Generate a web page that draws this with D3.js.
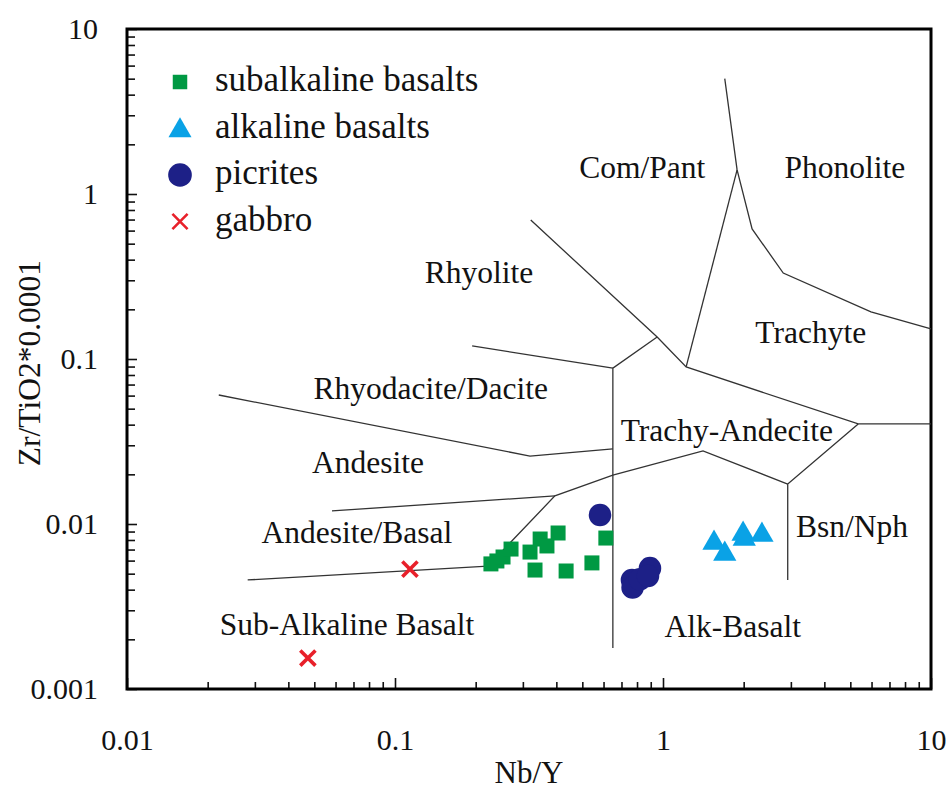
<!DOCTYPE html>
<html>
<head>
<meta charset="utf-8">
<script src="https://cdn.jsdelivr.net/npm/d3@7"></script>
<style>
  html, body { margin: 0; padding: 0; background: #fff; }
  svg { display: block; }
</style>
</head>
<body>
<svg id="chart" width="951" height="791"></svg>
<script>
// Nb/Y vs Zr/TiO2*0.0001 classification (Winchester & Floyd style)

const xTickValues = [0.01, 0.1, 1, 10];
const xTickLabels = ["0.01", "0.1", "1", "10"];
const yTickValues = [0.001, 0.01, 0.1, 1, 10];
const yTickLabels = ["0.001", "0.01", "0.1", "1", "10"];

// sample groups: [Nb/Y, Zr/TiO2*0.0001]
const subalkalineBasalts = [
  [0.228, 0.00573], [0.240, 0.00597], [0.253, 0.00631], [0.271, 0.00705],
  [0.319, 0.00676], [0.348, 0.00811], [0.369, 0.00736], [0.406, 0.00882],
  [0.333, 0.00526], [0.435, 0.00519], [0.543, 0.00581], [0.612, 0.00822]
];
const alkalineBasalts = [
  [1.55, 0.00789], [1.70, 0.00676], [1.99, 0.00895], [2.01, 0.00834], [2.34, 0.00882]
];
const picrites = [
  [0.582, 0.01135], [0.766, 0.00458], [0.770, 0.00412], [0.820, 0.00462],
  [0.894, 0.00540], [0.879, 0.00484]
];
const gabbro = [
  [0.1137, 0.00533], [0.0473, 0.00154]
];

// field boundaries as polylines
const boundaries = [
  [[1.70, 5.0], [1.89, 1.40], [2.15, 0.614], [2.81, 0.332], [5.97, 0.193], [10, 0.152]],
  [[1.89, 1.40], [1.22, 0.0895]],
  [[0.321, 0.695], [0.951, 0.136], [1.22, 0.0895], [5.35, 0.0404], [10, 0.0404]],
  [[0.951, 0.136], [0.65, 0.088], [0.65, 0.00177]],
  [[0.194, 0.12], [0.65, 0.088]],
  [[0.022, 0.0605], [0.319, 0.0258], [0.65, 0.0285]],
  [[5.35, 0.0404], [2.92, 0.01746], [2.92, 0.00458]],
  [[2.92, 0.01746], [1.41, 0.0277], [0.65, 0.0198], [0.395, 0.0148], [0.222, 0.00556]],
  [[0.0582, 0.0120], [0.395, 0.0148]],
  [[0.0282, 0.00458], [0.222, 0.00556]]
];

// field names with anchor (centre, baseline) in data units
const fieldNames = ["Com/Pant", "Phonolite", "Rhyolite", "Trachyte", "Rhyodacite/Dacite",
  "Trachy-Andecite", "Andesite", "Andesite/Basal", "Bsn/Nph", "Sub-Alkaline Basalt", "Alk-Basalt"];
const fieldAnchors = [
  [0.836, 1.25], [4.77, 1.25], [0.206, 0.289], [3.56, 0.125], [0.136, 0.0573],
  [1.73, 0.0318], [0.0793, 0.0204], [0.0721, 0.00767], [5.07, 0.00834], [0.0662, 0.00212], [1.82, 0.00207]
];

const legendNames = ["subalkaline basalts", "alkaline basalts", "picrites", "gabbro"];

const FONT = '"Liberation Serif"';
const TEXT_COLOR = "#121212";

const svg = d3.select("#chart");
const plotLeft = 127, plotRight = 931, plotTop = 29, plotBottom = 689;

const x = d3.scaleLog().domain([0.01, 10]).range([plotLeft, plotRight]);
const y = d3.scaleLog().domain([0.001, 10]).range([plotBottom, plotTop]);

// minor ticks (inside the frame)
const xMinor = x.ticks().filter(v => !xTickValues.includes(v));
const yMinor = y.ticks().filter(v => !yTickValues.includes(v));

const axisStyle = g => {
  g.attr("font-family", null).attr("font-size", null);
  g.select(".domain").remove();
  g.selectAll("line").attr("stroke", "#111").attr("stroke-width", 1.6);
  g.selectAll("text")
    .style("font-family", FONT).style("font-size", "30px")
    .attr("fill", TEXT_COLOR);
};

svg.append("g").attr("transform", `translate(0,${plotBottom})`)
  .call(d3.axisBottom(x).tickValues(xMinor).tickSize(-7).tickFormat(""))
  .call(axisStyle);
svg.append("g").attr("transform", `translate(0,${plotBottom})`)
  .call(d3.axisBottom(x).tickValues(xTickValues).tickSize(-11).tickPadding(40)
    .tickFormat((d, i) => xTickLabels[i]))
  .call(axisStyle);

svg.append("g").attr("transform", `translate(${plotLeft},0)`)
  .call(d3.axisLeft(y).tickValues(yMinor).tickSize(-8).tickFormat(""))
  .call(axisStyle);
svg.append("g").attr("transform", `translate(${plotLeft},0)`)
  .call(d3.axisLeft(y).tickValues(yTickValues).tickSize(-10).tickPadding(29)
    .tickFormat((d, i) => yTickLabels[i]))
  .call(axisStyle);

// frame
svg.append("rect")
  .attr("x", plotLeft).attr("y", plotTop)
  .attr("width", plotRight - plotLeft).attr("height", plotBottom - plotTop)
  .attr("fill", "none").attr("stroke", "#000").attr("stroke-width", 3);

// field boundaries
const line = d3.line().x(d => x(d[0])).y(d => y(d[1]));
svg.append("g").selectAll("path").data(boundaries).join("path")
  .attr("d", line).attr("fill", "none")
  .attr("stroke", "#333").attr("stroke-width", 1.3);

// field names
svg.append("g").selectAll("text").data(fieldNames).join("text")
  .attr("x", (d, i) => x(fieldAnchors[i][0]))
  .attr("y", (d, i) => y(fieldAnchors[i][1]))
  .attr("text-anchor", "middle")
  .style("font-family", FONT).style("font-size", "31.5px")
  .attr("fill", TEXT_COLOR)
  .text(d => d);

// axis titles
svg.append("text").attr("x", (plotLeft + plotRight) / 2).attr("y", 783)
  .attr("text-anchor", "middle")
  .style("font-family", FONT).style("font-size", "31px").attr("fill", TEXT_COLOR)
  .text("Nb/Y");
svg.append("text").attr("transform", `translate(40,${(plotTop + plotBottom) / 2 + 4}) rotate(-90)`)
  .attr("text-anchor", "middle")
  .style("font-family", FONT).style("font-size", "31.5px").attr("fill", TEXT_COLOR)
  .text("Zr/TiO2*0.0001");

// symbols
const timesType = {
  draw(ctx, size) {
    const r = Math.sqrt(size) / 2;
    ctx.moveTo(-r, -r); ctx.lineTo(r, r);
    ctx.moveTo(r, -r); ctx.lineTo(-r, r);
  }
};
const styles = [
  { data: subalkalineBasalts, type: d3.symbolSquare, size: 225, fill: "#009943", stroke: "none" },
  { data: alkalineBasalts, type: d3.symbolTriangle, size: 235, fill: "#0aa2e6", stroke: "none" },
  { data: picrites, type: d3.symbolCircle, size: 400, fill: "#1d2087", stroke: "none" },
  { data: gabbro, type: timesType, size: 230, fill: "none", stroke: "#e8202a" }
];

const triOffset = t => (t === d3.symbolTriangle ? 2 : 0);

styles.forEach(s => {
  svg.append("g").selectAll("path").data(s.data).join("path")
    .attr("transform", d => `translate(${x(d[0])},${y(d[1]) + triOffset(s.type)})`)
    .attr("d", d3.symbol().type(s.type).size(s.size))
    .attr("fill", s.fill)
    .attr("stroke", s.stroke)
    .attr("stroke-width", s.stroke === "none" ? 0 : 3.6);
});

// legend
const legend = svg.append("g");
styles.forEach((s, i) => {
  const cy = 82 + i * 46.5;
  legend.append("path")
    .attr("transform", `translate(180,${cy + triOffset(s.type)})`)
    .attr("d", d3.symbol().type(s.type).size(s.type === d3.symbolCircle ? 440 : s.type === d3.symbolSquare ? 210 : 230))
    .attr("fill", s.fill).attr("stroke", s.stroke)
    .attr("stroke-width", s.stroke === "none" ? 0 : 2.6);
  legend.append("text").attr("x", 215).attr("y", cy + 9)
    .style("font-family", FONT).style("font-size", "35px").attr("fill", TEXT_COLOR)
    .text(legendNames[i]);
});
</script>
</body>
</html>
